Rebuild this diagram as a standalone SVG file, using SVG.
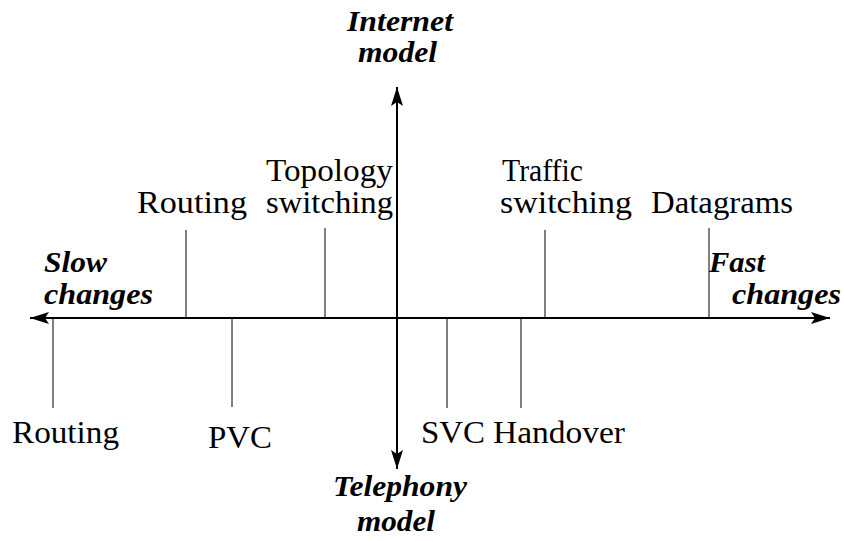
<svg xmlns="http://www.w3.org/2000/svg" width="844" height="541" viewBox="0 0 844 541">
<style>
.lbl{font-family:'Liberation Serif', 'Times New Roman', Times, 'DejaVu Serif', serif;font-size:31px;fill:#000}
.ax{font-family:'Liberation Serif', 'Times New Roman', Times, 'DejaVu Serif', serif;font-size:30px;font-weight:bold;font-style:italic;fill:#000}
.tick{stroke:#000;stroke-width:1}
.axis{stroke:#000;stroke-width:2;fill:none}
</style>
<defs>
<marker id="ah" markerUnits="userSpaceOnUse" markerWidth="20" markerHeight="12" refX="19" refY="6" orient="auto">
<path d="M0,0 L19,6 L0,12 L4,6 Z" fill="#000"/>
</marker>
</defs>
<rect width="844" height="541" fill="#fff"/>
<g id="connectors">
<line class="axis" x1="397" y1="318" x2="30" y2="318" marker-end="url(#ah)"/>
<line class="axis" x1="397" y1="318" x2="830" y2="318" marker-end="url(#ah)"/>
<line class="axis" x1="397" y1="318" x2="397" y2="87" marker-end="url(#ah)"/>
<line class="axis" x1="397" y1="318" x2="397" y2="469" marker-end="url(#ah)"/>
</g>
<g id="internet-model"><text class="ax" x="347" y="31" textLength="106" lengthAdjust="spacingAndGlyphs">Internet</text><text class="ax" x="358" y="62" textLength="79" lengthAdjust="spacingAndGlyphs">model</text></g>
<g id="telephony-model"><text class="ax" x="333" y="496" textLength="134" lengthAdjust="spacingAndGlyphs">Telephony</text><text class="ax" x="357" y="531" textLength="78" lengthAdjust="spacingAndGlyphs">model</text></g>
<g id="slow-changes"><text class="ax" x="44" y="272" textLength="63" lengthAdjust="spacingAndGlyphs">Slow</text><text class="ax" x="44" y="304" textLength="109" lengthAdjust="spacingAndGlyphs">changes</text></g>
<g id="fast-changes"><text class="ax" x="709" y="272" textLength="56" lengthAdjust="spacingAndGlyphs">Fast</text><text class="ax" x="732" y="304" textLength="109" lengthAdjust="spacingAndGlyphs">changes</text></g>
<g id="routing-top"><line class="tick" x1="186" y1="230" x2="186" y2="318"/><text class="lbl" x="137" y="213" textLength="110" lengthAdjust="spacingAndGlyphs">Routing</text></g>
<g id="topology-switching"><line class="tick" x1="325" y1="228" x2="325" y2="318"/><text class="lbl" x="266" y="181" textLength="127" lengthAdjust="spacingAndGlyphs">Topology</text><text class="lbl" x="266" y="213" textLength="127" lengthAdjust="spacingAndGlyphs">switching</text></g>
<g id="traffic-switching"><line class="tick" x1="545" y1="230" x2="545" y2="318"/><text class="lbl" x="502" y="181" textLength="81" lengthAdjust="spacingAndGlyphs">Traffic</text><text class="lbl" x="500" y="213" textLength="132" lengthAdjust="spacingAndGlyphs">switching</text></g>
<g id="datagrams"><line class="tick" x1="709" y1="228" x2="709" y2="318"/><text class="lbl" x="651" y="213" textLength="142" lengthAdjust="spacingAndGlyphs">Datagrams</text></g>
<g id="routing-bottom"><line class="tick" x1="53" y1="318" x2="53" y2="408"/><text class="lbl" x="12" y="443" textLength="107" lengthAdjust="spacingAndGlyphs">Routing</text></g>
<g id="pvc"><line class="tick" x1="232" y1="318" x2="232" y2="407"/><text class="lbl" x="208" y="448" textLength="64" lengthAdjust="spacingAndGlyphs">PVC</text></g>
<g id="svc"><line class="tick" x1="447" y1="318" x2="447" y2="408"/><text class="lbl" x="421" y="443" textLength="64" lengthAdjust="spacingAndGlyphs">SVC</text></g>
<g id="handover"><line class="tick" x1="521" y1="318" x2="521" y2="408"/><text class="lbl" x="493" y="443" textLength="132" lengthAdjust="spacingAndGlyphs">Handover</text></g>
</svg>
